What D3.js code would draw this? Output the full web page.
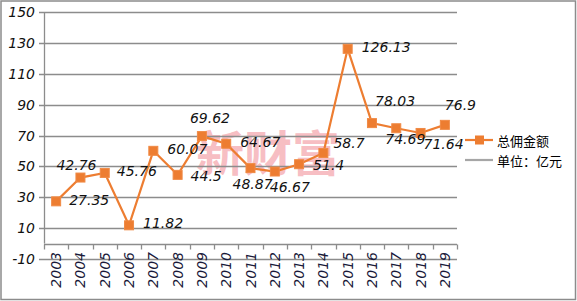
<!DOCTYPE html>
<html>
<head>
<meta charset="utf-8">
<script src="https://cdn.jsdelivr.net/npm/d3@7"></script>
<style>
  body { margin: 0; background: #fff; }
  svg { display: block; }
</style>
</head>
<body>
<div id="chart-area"></div>
<script>
// Data
const years = ['2003', '2004', '2005', '2006', '2007', '2008', '2009', '2010', '2011',
    '2012', '2013', '2014', '2015', '2016', '2017', '2018', '2019'];
const values = [27.35, 42.76, 45.76, 11.82, 60.07, 44.5, 69.62, 64.67, 48.87,
    46.67, 51.4, 58.7, 126.13, 78.03, 74.69, 71.64, 76.9];
const yTicks = [-10, 10, 30, 50, 70, 90, 110, 130, 150];
const seriesName = '总佣金额';
const unitName = '单位：亿元';

// label offsets from each point (layout only)
const labelDx = [13, -24, 12, 14, 14, 13, -12, 14, -18, -5, 14, 10, 14, 3, -11, 3, 0];
const labelDy = [-1, -13, -2, -2, -2, 1, -18, -2, 16, 15, 1, -10, -2, -22, 11, 11, -20];

// Constants
const W = 577, H = 301;
const PLOT = { LEFT: 44, RIGHT: 457, TOP: 12, BOTTOM: 259 };
const ORANGE = '#ED7D31';
const GRID = '#8c8c8c';
const NUM_FONT = '"DejaVu Sans", sans-serif';

const svg = d3.select('#chart-area')
    .append('svg')
    .attr('width', W)
    .attr('height', H);

svg.append('rect')
    .attr('x', 1).attr('y', 1)
    .attr('width', W - 2.5).attr('height', H - 2.5)
    .attr('fill', '#fff')
    .attr('stroke', '#8c8c8c')
    .attr('stroke-width', 1.5);

const x = d3.scaleBand()
    .domain(years)
    .range([PLOT.LEFT, PLOT.RIGHT]);

const y = d3.scaleLinear()
    .domain([-10, 150])
    .range([PLOT.BOTTOM, PLOT.TOP]);

// Watermark
svg.append('text')
    .attr('x', 268).attr('y', 150)
    .attr('text-anchor', 'middle')
    .attr('dominant-baseline', 'central')
    .attr('font-family', '"Noto Sans CJK SC", sans-serif')
    .attr('font-weight', 'bold')
    .attr('font-size', 48)
    .attr('fill', '#f4a3aa')
    .attr('opacity', 0.7)
    .text('新财富');

// Gridlines
svg.append('g')
    .selectAll('line')
    .data(yTicks)
    .enter().append('line')
    .attr('x1', PLOT.LEFT - 5)
    .attr('x2', PLOT.RIGHT)
    .attr('y1', d => Math.round(y(d)) + 0.5)
    .attr('y2', d => Math.round(y(d)) + 0.5)
    .attr('stroke', GRID)
    .attr('stroke-width', 1.3);

// Y tick labels
svg.append('g')
    .selectAll('text')
    .data(yTicks)
    .enter().append('text')
    .attr('x', 35)
    .attr('y', d => y(d))
    .attr('text-anchor', 'end')
    .attr('dominant-baseline', 'central')
    .attr('font-family', NUM_FONT)
    .attr('font-style', 'italic')
    .attr('font-size', 14)
    .attr('fill', '#111')
    .text(d => d);

// Vertical axis line
svg.append('line')
    .attr('x1', PLOT.LEFT + 0.5).attr('x2', PLOT.LEFT + 0.5)
    .attr('y1', PLOT.TOP).attr('y2', y(0))
    .attr('stroke', GRID)
    .attr('stroke-width', 1.3);

// Category axis at zero
const xAxis = svg.append('g')
    .attr('transform', `translate(0, ${Math.round(y(0)) + 0.5})`);

xAxis.append('line')
    .attr('x1', PLOT.LEFT).attr('x2', PLOT.RIGHT)
    .attr('stroke', GRID)
    .attr('stroke-width', 1.3);

xAxis.selectAll('.tick')
    .data(years.concat(['end']))
    .enter().append('line')
    .attr('x1', (d, i) => Math.round(PLOT.LEFT + i * x.step()) + 0.5)
    .attr('x2', (d, i) => Math.round(PLOT.LEFT + i * x.step()) + 0.5)
    .attr('y1', 0).attr('y2', 5)
    .attr('stroke', GRID)
    .attr('stroke-width', 1.3);

svg.append('g')
    .selectAll('text')
    .data(years)
    .enter().append('text')
    .attr('transform', d => `translate(${x(d) + x.bandwidth() / 2}, 252) rotate(-90)`)
    .attr('text-anchor', 'end')
    .attr('dominant-baseline', 'central')
    .attr('font-family', NUM_FONT)
    .attr('font-style', 'italic')
    .attr('font-size', 14)
    .attr('fill', '#1a1a3a')
    .text(d => d);

// Line
const line = d3.line()
    .x((d, i) => x(years[i]) + x.bandwidth() / 2)
    .y(d => y(d));

svg.append('path')
    .datum(values)
    .attr('d', line)
    .attr('fill', 'none')
    .attr('stroke', ORANGE)
    .attr('stroke-width', 2.2);

svg.append('g')
    .selectAll('rect')
    .data(values)
    .enter().append('rect')
    .attr('x', (d, i) => x(years[i]) + x.bandwidth() / 2 - 4.5)
    .attr('y', d => y(d) - 4.5)
    .attr('width', 9)
    .attr('height', 9)
    .attr('fill', ORANGE)
    .attr('stroke', '#f08a45')
    .attr('stroke-width', 1);

// Data labels
svg.append('g')
    .selectAll('text')
    .data(values)
    .enter().append('text')
    .attr('x', (d, i) => x(years[i]) + x.bandwidth() / 2 + labelDx[i])
    .attr('y', (d, i) => y(d) + labelDy[i])
    .attr('dominant-baseline', 'central')
    .attr('font-family', NUM_FONT)
    .attr('font-style', 'italic')
    .attr('font-size', 14)
    .attr('fill', '#111')
    .text(d => d);

// Legend
const legend = svg.append('g');
legend.append('line')
    .attr('x1', 465).attr('x2', 493)
    .attr('y1', 140).attr('y2', 140)
    .attr('stroke', ORANGE)
    .attr('stroke-width', 2.2);
legend.append('rect')
    .attr('x', 475).attr('y', 135.5)
    .attr('width', 9).attr('height', 9)
    .attr('fill', ORANGE);
legend.append('text')
    .attr('x', 497).attr('y', 140)
    .attr('dominant-baseline', 'central')
    .attr('font-family', '"Noto Sans CJK SC", sans-serif')
    .attr('font-size', 13)
    .attr('fill', '#000')
    .text(seriesName);

legend.append('line')
    .attr('x1', 465).attr('x2', 493)
    .attr('y1', 160).attr('y2', 160)
    .attr('stroke', '#a6a6a6')
    .attr('stroke-width', 2.2);
legend.append('text')
    .attr('x', 497).attr('y', 160)
    .attr('dominant-baseline', 'central')
    .attr('font-family', '"Noto Sans CJK SC", sans-serif')
    .attr('font-size', 13)
    .attr('fill', '#000')
    .text(unitName);
</script>
</body>
</html>
